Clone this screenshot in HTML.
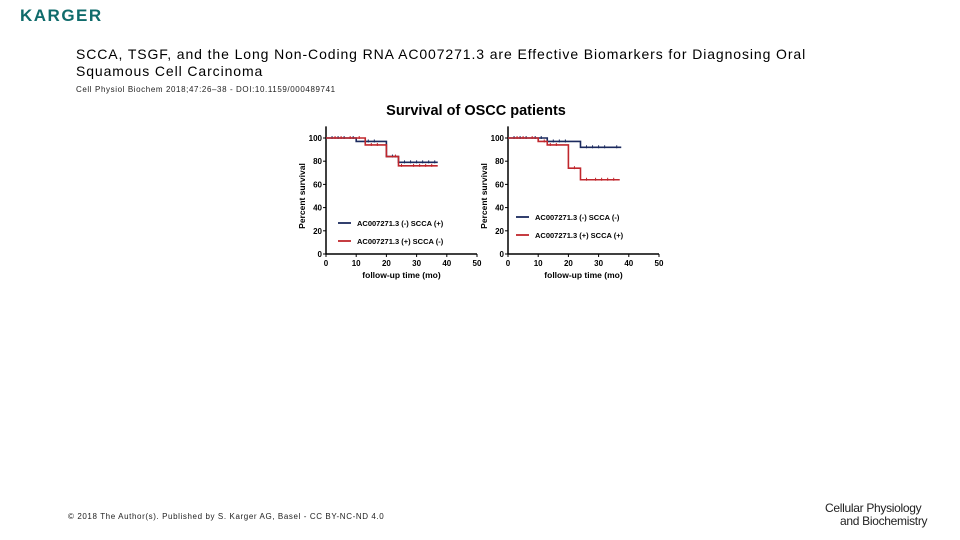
<!DOCTYPE html>
<html><head><meta charset="utf-8"><style>
body{margin:0;width:960px;height:540px;background:#fff;position:relative;overflow:hidden;font-family:"Liberation Sans",sans-serif}
.abs{position:absolute}
</style></head><body>
<div class="abs" style="left:20px;top:6px;font-size:17px;font-weight:bold;color:#0f6b6b;letter-spacing:1.5px">KARGER</div>
<div class="abs" style="left:76px;top:46px;font-size:14px;line-height:17px;color:#000;letter-spacing:0.9px">SCCA, TSGF, and the Long Non-Coding RNA AC007271.3 are Effective Biomarkers for Diagnosing Oral<br>Squamous Cell Carcinoma</div>
<div class="abs" style="left:76px;top:85px;font-size:8px;color:#222;letter-spacing:0.6px">Cell Physiol Biochem 2018;47:26–38 - DOI:10.1159/000489741</div>
<div class="abs" style="left:68px;top:512px;font-size:8px;color:#222;letter-spacing:0.6px">© 2018 The Author(s). Published by S. Karger AG, Basel - CC BY-NC-ND 4.0</div>
<div class="abs" style="left:825px;top:502px;font-size:12px;line-height:13px;color:#222;letter-spacing:-0.3px">Cellular Physiology<br><span style="padding-left:15px">and Biochemistry</span></div>
<svg class="abs" style="left:0;top:0" width="960" height="540" id="chart">
<text x="476" y="115" text-anchor="middle" font-size="14.5" font-weight="bold" font-family="Liberation Sans">Survival of OSCC patients</text>
</svg>
<script>
const xTicks=[0,10,20,30,40,50];
const yTicks=[0,20,40,60,80,100];
const leftBlueT=[0,10,20,24,37];
const leftBlueS=[100,97,84,79,79];
const leftRedT=[0,13,20,24,37];
const leftRedS=[100,94,84,76,76];
const rightBlueT=[0,13,24,37.5];
const rightBlueS=[100,97,92,92];
const rightRedT=[0,10,13,20,24,37];
const rightRedS=[100,97,94,74,64,64];
const leftBlueCens=[2,4,6,9,14,16,22,26,28,30,32,34,36];
const leftRedCens=[3,5,8,11,15,17,23,25,29,31,33,35];
const rightBlueCens=[2,4,6,9,11,15,17,19,26,28,30,32,36];
const rightRedCens=[3,5,8,12,14,16,22,26,29,31,33,35];
const leftLegend=["AC007271.3 (-)  SCCA (+)","AC007271.3 (+)  SCCA (-)"];
const rightLegend=["AC007271.3 (-)  SCCA (-)","AC007271.3 (+)  SCCA (+)"];
const NS="http://www.w3.org/2000/svg",svg=document.getElementById('chart');
function mk(t,a,p){const e=document.createElementNS(NS,t);for(const k in a)e.setAttribute(k,a[k]);(p||svg).appendChild(e);return e;}
const BLUE="#1b2a5e",RED="#c0272d";
function panel(x0,name,series,legend,legPos){
  const g=mk('g',{});
  
  
  const y0=254,sx=3.02,sy=1.16;
  const X=t=>x0+t*sx,Y=v=>y0-v*sy;
  const ax=mk('path',{d:`M${X(0)} ${Y(110)}V${Y(0)}H${X(50)}`,stroke:'#000','stroke-width':1.5,fill:'none'},g);
  
  
  xTicks.forEach(t=>{mk('line',{x1:X(t),x2:X(t),y1:y0,y2:y0+3,stroke:'#000'},g);
    const tx=mk('text',{x:X(t),y:y0+12,'text-anchor':'middle','font-size':8,'font-weight':'bold'},g);tx.textContent=t;
    
    });
  yTicks.forEach(v=>{mk('line',{x1:X(0)-3,x2:X(0),y1:Y(v),y2:Y(v),stroke:'#000'},g);
    const tx=mk('text',{x:X(0)-4,y:Y(v)+3,'text-anchor':'end','font-size':8,'font-weight':'bold'},g);tx.textContent=v;
    
    });
  const xt=mk('text',{x:X(25),y:y0+24,'text-anchor':'middle','font-size':8.5,'font-weight':'bold'},g);xt.textContent='follow-up time (mo)';
  
  
  const yt=mk('text',{x:0,y:0,transform:`translate(${X(0)-21},${Y(50)}) rotate(-90)`,'text-anchor':'middle','font-size':8.5,'font-weight':'bold'},g);yt.textContent='Percent survival';
  
  
  series.forEach((s,i)=>{
    let d=`M${X(s.t[0])} ${Y(s.s[0])}`;
    for(let k=1;k<s.t.length;k++){d+=`H${X(s.t[k])}V${Y(s.s[k])}`;}
    const p=mk('path',{d,stroke:s.c,'stroke-width':1.6,fill:'none'},g);
    
    
    s.cens.forEach(t=>{let k=0;while(k+1<s.t.length&&s.t[k+1]<=t)k++;
      mk('line',{x1:X(t),x2:X(t),y1:Y(s.s[k])-2,y2:Y(s.s[k])+1,stroke:s.c,'stroke-width':1},g);});
    const ly=legPos[1]+i*18;
    const ll=mk('line',{x1:legPos[0],x2:legPos[0]+13,y1:ly,y2:ly,stroke:s.c,'stroke-width':1.8},g);
    
    
    const lt=mk('text',{x:legPos[0]+19,y:ly+3,'font-size':7.5,'font-weight':'bold'},g);lt.textContent=legend[i];
    
    
  });
}
panel(326,'left-panel',[{t:leftBlueT,s:leftBlueS,c:BLUE,cens:leftBlueCens,n:'blue'},{t:leftRedT,s:leftRedS,c:RED,cens:leftRedCens,n:'red'}],leftLegend,[338,223]);
panel(508,'right-panel',[{t:rightBlueT,s:rightBlueS,c:BLUE,cens:rightBlueCens,n:'blue'},{t:rightRedT,s:rightRedS,c:RED,cens:rightRedCens,n:'red'}],rightLegend,[516,217]);
</script>
</body></html>
